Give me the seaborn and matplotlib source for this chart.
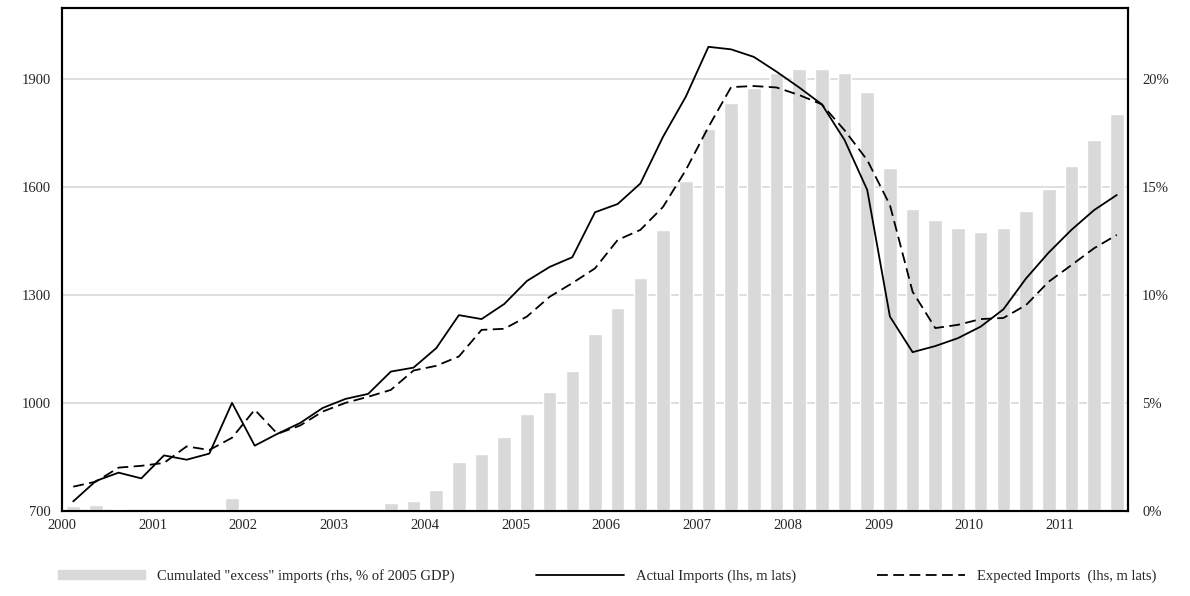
import numpy as np
import pandas as pd
import matplotlib
matplotlib.use("Agg")
import matplotlib.pyplot as plt
import seaborn as sns
from matplotlib.ticker import FuncFormatter
from matplotlib.patches import Patch
from matplotlib.lines import Line2D

years = list(range(2000, 2012))
quarters = [f"{y}Q{q}" for y in years for q in range(1, 5)][:47]

# cumulated excess imports, % of 2005 GDP
excess = [0.2, 0.28, 0.1, 0, 0, 0, 0, 0.6, 0, 0, 0, 0, 0, 0, 0.35, 0.45,
          0.97, 2.27, 2.63, 3.4, 4.5, 5.5, 6.5, 8.2, 9.4, 10.8, 13.0, 15.3,
          17.7, 18.9, 19.6, 20.3, 20.5, 20.5, 20.3, 19.4, 15.9, 14.0, 13.5,
          13.1, 12.9, 13.1, 13.9, 14.9, 16.0, 17.2, 18.4]
actual = [726, 783, 806, 790, 854, 842, 859, 1000, 881, 914, 944, 986,
          1011, 1025, 1087, 1098, 1152, 1244, 1233, 1275, 1339, 1378, 1405,
          1530, 1553, 1610, 1740, 1851, 1990, 1983, 1962, 1921, 1877, 1830,
          1731, 1592, 1240, 1141, 1158, 1180, 1212, 1260, 1346, 1418, 1481,
          1536, 1578]
expected = [767, 781, 820, 825, 833, 879, 869, 903, 981, 914, 937, 976,
            1000, 1017, 1036, 1090, 1103, 1129, 1203, 1206, 1240, 1295, 1333,
            1374, 1453, 1481, 1545, 1647, 1767, 1878, 1881, 1877, 1856, 1830,
            1758, 1675, 1550, 1309, 1208, 1217, 1233, 1236, 1272, 1337, 1383,
            1430, 1467]

df = pd.DataFrame({"quarter": quarters, "excess": np.array(excess) / 100,
                   "actual": actual, "expected": expected,
                   "pos": np.arange(len(quarters))})

sns.set_style("white")
plt.rcParams["font.family"] = ["Liberation Serif", "DejaVu Serif"]
plt.rcParams["font.size"] = 10.5

fig = plt.figure(figsize=(11.9, 5.96), dpi=100)
ax = fig.add_axes([0.052, 0.143, 0.896, 0.843])
bar_col = "#d9d9d9"
sns.barplot(x="quarter", y="excess", data=df, color=bar_col, width=0.6,
            saturation=1, ax=ax)

ax2 = ax.twinx()
ax3 = ax.twinx()

ax.set_ylim(0, 0.2329)
ax.yaxis.set_ticks_position("right")
ax.set_yticks([0, 0.05, 0.10, 0.15, 0.20])
ax.yaxis.set_major_formatter(FuncFormatter(lambda v, p: f"{v*100:.0f}%"))
ax.set_xlim(-0.5, 46.5)
ax.set_xticks([4 * i - 0.5 for i in range(12)])
ax.set_xticklabels([str(y) for y in years])
ax.tick_params(axis="x", length=0, pad=6)
ax.tick_params(axis="y", length=0, pad=10)
ax.set_xlabel("")
ax.set_ylabel("")

ax2.set_zorder(ax.get_zorder() - 1)
ax.patch.set_visible(False)
ax2.set_ylim(700, 2097)
ax2.set_yticks([700, 1000, 1300, 1600, 1900])
ax2.yaxis.set_ticks_position("left")
ax2.tick_params(length=0, pad=8)
ax2.grid(axis="y", color="#d9d9d9", lw=1.2)
ax2.set_xlim(-0.5, 46.5)

# lines on an overlay so they stay above the bars
ax3.set_ylim(700, 2097)
ax3.set_xlim(-0.5, 46.5)
ax3.axis("off")
sns.lineplot(x="pos", y="actual", data=df, color="black", lw=1.3, ax=ax3)
sns.lineplot(x="pos", y="expected", data=df, color="black", lw=1.3,
             linestyle=(0, (6, 3)), ax=ax3)

for a in (ax, ax2):
    for s in a.spines.values():
        s.set_color("black")
        s.set_linewidth(1.5)

handles = [Patch(color=bar_col),
           Line2D([], [], color="black", lw=1.3),
           Line2D([], [], color="black", lw=1.3, linestyle=(0, (6, 3)))]
labels = ['Cumulated "excess" imports (rhs, % of 2005 GDP)',
          "Actual Imports (lhs, m lats)",
          "Expected Imports  (lhs, m lats)"]
fig.legend(handles, labels, loc="lower center", ncol=3, frameon=False,
           bbox_to_anchor=(0.51, 0.0), handlelength=6, columnspacing=5.6,
           handleheight=0.5)

fig.savefig("out.png", dpi=100)
